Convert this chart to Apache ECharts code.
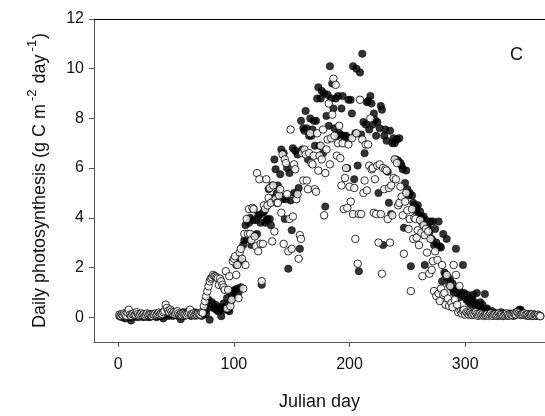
<!DOCTYPE html>
<html>
<head>
<meta charset="utf-8">
<script src="https://cdn.jsdelivr.net/npm/echarts@6/dist/echarts.min.js"></script>
<style>html,body{margin:0;padding:0;background:#fff}#c{width:545px;height:416px}</style>
</head>
<body>
<div id="c"></div>
<script>
// Daily photosynthesis values, one per Julian day (day 1..365)
const filledSeries = [
  0.05,0.02,0.08,0.0,0.1,-0.05,0.05,0.12,0.03,0.0,
  -0.13,0.05,0.1,0.02,0.06,0.15,0.0,0.05,0.08,0.03,
  0.1,0.0,0.05,0.12,0.02,0.07,0.0,0.1,0.04,0.08,
  0.05,0.12,0.0,0.06,0.1,0.15,0.03,0.08,-0.05,0.1,
  0.2,0.15,0.05,0.25,0.1,0.18,0.05,0.12,0.2,0.08,
  0.15,0.05,0.1,-0.08,0.12,0.2,0.05,0.15,0.1,0.22,
  0.08,0.18,0.05,0.12,0.1,0.2,0.06,0.15,0.1,
  // 70-99
  0.1,0.15,0.05,0.2,0.1,0.3,0.15,0.35,0.7,-0.1,
  0.5,0.6,0.45,0.35,0.5,0.3,0.25,0.24,0.4,0.04,
  0.37,0.55,0.3,0.44,0.77,0.3,0.24,0.6,0.9,1.05,
  // 100-129
  0.8,1.1,2.1,1.15,1.0,2.35,1.2,2.25,2.9,3.1,
  3.7,3.15,3.3,3.8,4.0,2.9,3.9,4.35,3.3,3.9,
  3.35,4.1,4.1,3.8,1.3,4.2,4.25,3.8,3.9,3.95,
  // 130-245
  5.15,3.95,3.7,5.3,4.8,6.35,5.95,5.0,5.3,4.9,
  5.75,6.75,4.75,6.6,3.95,4.75,6.0,1.95,5.8,4.7,
  3.5,6.8,5.0,6.7,4.95,6.55,5.2,2.75,7.9,6.75,
  7.6,7.5,8.3,7.6,6.35,7.3,8.0,7.3,7.55,7.9,
  6.9,7.9,8.8,9.25,6.9,8.8,9.1,6.6,9.0,4.45,
  8.1,8.95,7.7,10.1,8.8,9.4,8.4,7.6,8.8,7.3,
  8.9,7.4,7.35,8.4,8.9,7.3,7.2,7.3,6.0,8.75,
  7.2,8.75,8.2,10.1,5.55,7.4,10.0,6.1,1.85,9.85,
  7.35,10.6,7.85,6.6,7.75,8.65,8.7,7.55,8.9,8.6,
  7.75,8.2,7.95,7.3,7.85,5.0,7.6,8.5,8.35,2.9,
  7.3,7.55,7.1,5.85,4.6,7.5,4.15,7.0,7.2,7.0,
  6.35,7.15,6.3,7.2,6.2,6.1,
  // 246-320
  5.95,3.6,5.4,5.9,5.15,4.9,5.0,2.05,4.9,4.6,
  4.5,4.3,4.4,4.5,4.1,4.25,4.0,3.8,4.05,2.1,
  3.9,3.7,3.6,3.4,3.85,3.15,3.85,2.9,3.55,3.0,
  2.8,3.85,2.85,2.8,1.45,3.35,1.8,1.7,3.15,1.6,
  1.3,1.5,1.2,1.35,1.0,1.1,2.75,1.1,0.95,0.8,
  1.0,0.9,2.1,0.97,0.8,0.7,0.9,0.6,0.75,0.5,
  0.7,0.9,0.6,0.45,0.97,0.5,0.4,0.6,0.3,0.5,
  0.35,0.93,0.3,0.35,0.2,
  // 321-365
  0.2,0.15,0.25,0.1,0.18,0.08,0.15,0.05,0.12,0.1,
  0.2,0.05,0.1,0.15,0.08,0.12,0.05,0.1,0.15,0.08,
  0.1,0.05,0.12,0.2,0.15,0.25,0.3,0.3,0.2,0.1,
  0.15,0.08,0.1,0.05,0.12,0.08,0.1,0.05,0.08,0.1,
  0.06,0.05,0.08,0.04,0.05
];
const openSeries = [
  0.1,0.05,0.12,0.08,0.15,0.1,0.05,0.18,0.3,0.1,
  0.05,0.12,0.15,0.08,0.1,0.2,0.12,0.06,0.1,0.15,
  0.08,0.12,0.05,0.1,0.15,0.08,0.12,0.1,0.05,0.12,
  0.1,0.15,0.08,0.12,0.18,0.1,0.15,0.12,0.2,0.25,
  0.5,0.37,0.25,0.2,0.3,0.22,0.15,0.2,0.12,0.18,
  0.24,0.15,0.1,0.12,0.08,0.15,0.1,0.12,0.08,0.15,
  0.2,0.3,0.12,0.1,0.15,0.08,0.12,0.1,0.15,0.12,
  // 71-100
  0.1,0.2,0.17,0.44,0.64,0.84,1.04,1.24,1.44,1.55,
  1.6,1.7,1.65,1.64,1.6,1.57,1.3,1.55,1.44,1.3,
  1.2,1.1,1.85,0.35,1.1,1.65,0.44,0.7,2.25,2.35,
  // 101-130
  2.45,1.7,2.1,0.77,2.6,2.75,2.35,1.15,3.35,2.1,
  3.95,3.35,4.35,3.35,3.1,4.4,4.35,3.25,2.85,5.8,
  2.65,5.55,2.95,1.45,2.95,4.5,4.35,5.55,4.5,4.8,
  // 131-250
  5.2,4.6,3.05,5.3,3.45,4.75,4.6,4.6,4.9,5.15,
  4.2,6.55,2.95,6.35,6.2,4.95,2.65,3.95,7.55,2.75,
  4.05,6.15,5.95,4.75,4.95,2.35,3.3,3.15,6.6,5.5,
  6.75,6.55,5.5,5.15,6.6,7.4,6.2,6.15,6.5,5.15,
  5.05,7.4,5.9,6.5,6.9,6.35,7.55,4.1,5.8,6.75,
  7.15,8.6,6.15,7.2,8.15,9.6,7.3,9.35,6.5,7.0,
  7.7,6.4,5.3,7.0,4.35,5.6,6.0,4.4,6.95,5.25,
  4.65,7.2,4.15,5.2,3.15,7.4,2.15,4.15,8.75,4.15,
  7.15,5.0,5.5,6.95,5.1,6.95,6.1,8.0,5.95,6.0,
  4.2,5.55,4.15,6.1,3.0,6.15,4.15,1.75,6.0,5.15,
  5.95,5.9,3.95,5.2,3.0,5.3,4.1,5.6,6.35,5.55,
  6.2,4.5,4.6,5.25,4.85,4.1,2.55,4.65,5.0,4.3,
  // 251-300
  3.55,3.95,1.05,4.35,3.15,4.0,3.95,3.2,3.5,2.9,
  3.9,3.4,1.65,3.7,3.3,3.55,2.6,3.45,1.75,3.15,
  1.9,2.25,1.05,2.65,0.85,2.3,0.95,0.65,1.15,2.1,
  0.9,0.97,0.5,1.7,0.75,0.45,1.25,0.57,0.4,2.1,
  0.7,1.7,0.5,0.2,1.25,0.24,0.15,0.25,0.3,0.1,
  // 301-365
  0.2,0.15,0.1,0.18,0.12,0.08,0.15,0.1,0.2,0.12,
  0.05,0.1,0.15,0.08,0.12,0.05,0.1,0.08,0.12,0.05,
  0.1,0.15,0.08,0.05,0.1,0.12,0.06,0.1,0.15,0.08,
  0.12,0.1,0.05,0.08,0.12,0.15,0.1,0.06,0.12,0.1,
  0.08,0.15,0.12,0.1,0.2,0.15,0.1,0.08,0.12,0.1,
  0.15,0.08,0.1,0.12,0.06,0.1,0.08,0.12,0.05,0.1,
  0.08,0.06,0.1,0.05,0.04
];
const xTicks = [0, 100, 200, 300];
const yTicks = [0, 2, 4, 6, 8, 10, 12];
const panelLabel = 'C';

const FONT = "'Liberation Sans', Arial, sans-serif";
const toPairs = arr => arr.map((v, i) => [i + 1, v]);

const chart = echarts.init(document.getElementById('c'), null, {renderer: 'canvas'});
chart.setOption({
  animation: false,
  backgroundColor: '#fff',
  grid: {left: 94, top: 19, right: 0, bottom: 72, containLabel: false},
  xAxis: [{
    type: 'value', min: -21, max: 369,
    name: 'Julian day', nameLocation: 'middle', nameGap: 51,
    nameTextStyle: {fontFamily: FONT, fontSize: 18, color: '#111'},
    axisLine: {show: true, onZero: false, lineStyle: {color: '#555', width: 1}},
    axisTick: {show: true, inside: false, length: 5, customValues: xTicks, lineStyle: {color: '#555'}},
    axisLabel: {customValues: xTicks, fontFamily: FONT, fontSize: 16, color: '#111', margin: 15},
    splitLine: {show: false}
  }, {
    type: 'value', min: -21, max: 369, position: 'top',
    axisLine: {show: true, onZero: false, lineStyle: {color: '#000', width: 1}},
    axisTick: {show: false}, axisLabel: {show: false}, splitLine: {show: false}
  }],
  yAxis: {
    type: 'value', min: -1, max: 12,
    name: '{t|Daily photosynthesis (g C m}{s|-2}{t| day}{s|-1}{t|)}',
    nameLocation: 'middle', nameGap: 45, nameRotate: 90,
    nameTextStyle: {
      fontFamily: FONT, fontSize: 18, color: '#111',
      rich: {
        t: {fontFamily: FONT, fontSize: 18, color: '#111', lineHeight: 23, verticalAlign: 'bottom'},
        s: {fontFamily: FONT, fontSize: 13, color: '#111', lineHeight: 23, verticalAlign: 'top', padding: [0, 1, 0, 3]}
      }
    },
    axisLine: {show: true, onZero: false, lineStyle: {color: '#555', width: 1}},
    axisTick: {show: true, inside: false, length: 5, customValues: yTicks, lineStyle: {color: '#555'}},
    axisLabel: {customValues: yTicks, fontFamily: FONT, fontSize: 16, color: '#111', margin: 10},
    splitLine: {show: false}
  },
  graphic: [{
    type: 'text', left: 510, top: 46,
    style: {text: panelLabel, fontFamily: FONT, fontSize: 18, fill: '#111'}
  }],
  series: [{
    type: 'scatter', data: toPairs(filledSeries), symbol: 'circle', symbolSize: 7.5,
    itemStyle: {color: '#000', borderColor: '#000', borderWidth: 0.5}
  }, {
    type: 'scatter', data: toPairs(openSeries), symbol: 'circle', symbolSize: 7.5,
    itemStyle: {color: '#fff', borderColor: '#000', borderWidth: 1}
  }]
});
</script>
</body>
</html>
